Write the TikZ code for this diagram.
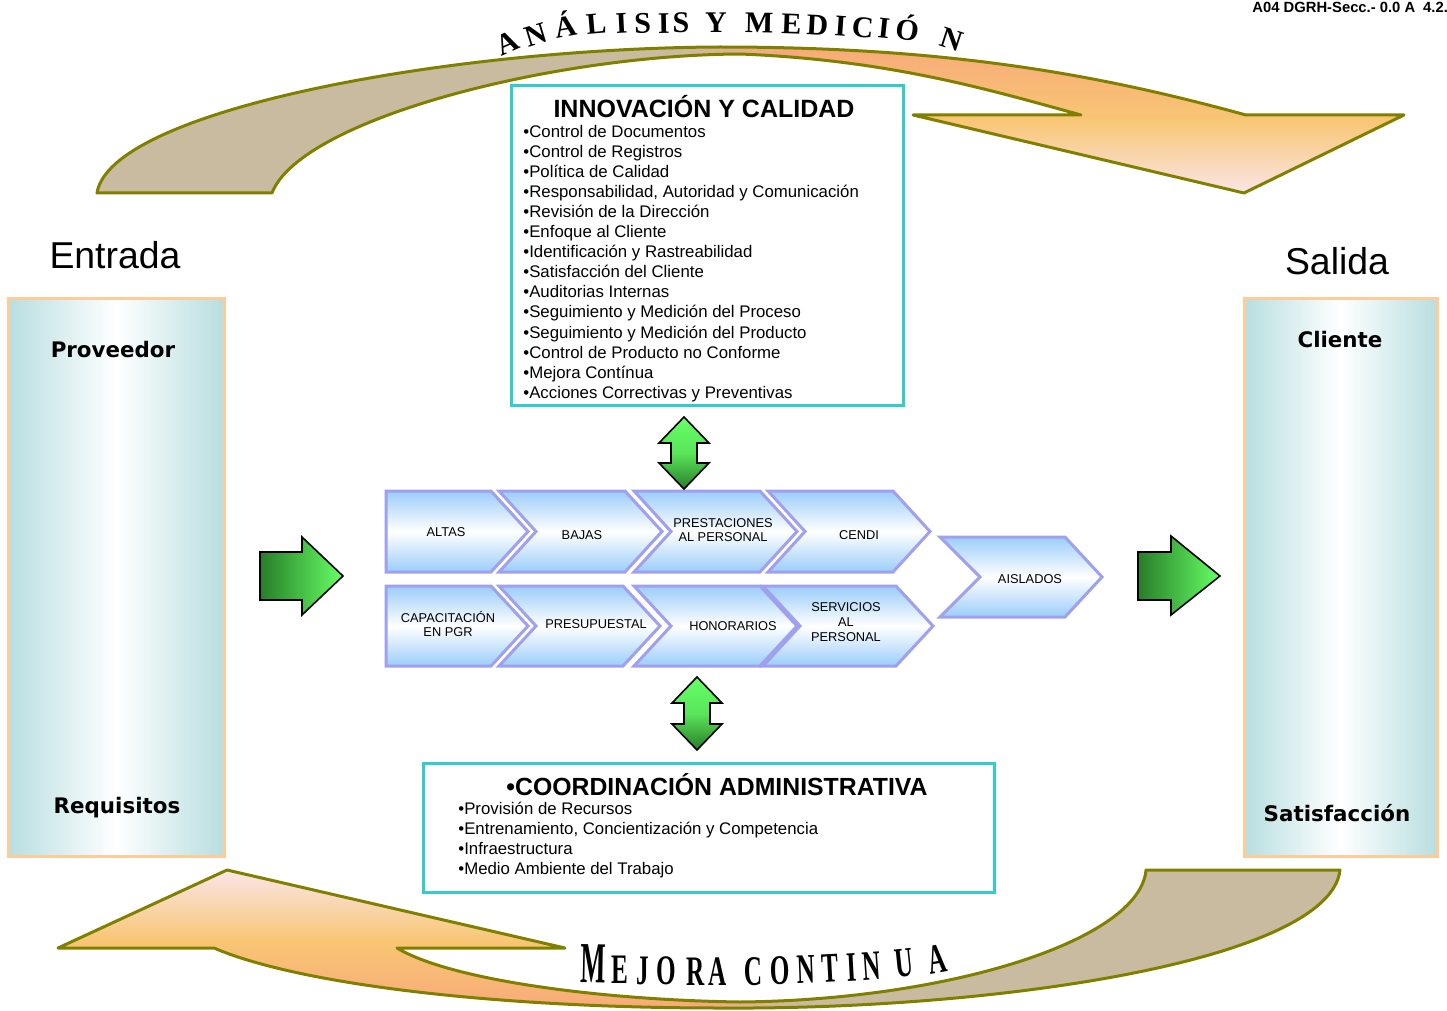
\documentclass[tikz,border=0pt]{standalone}
\usepackage{fontspec}
\usepackage{graphicx}
\setmainfont{Liberation Sans}
\newfontfamily\wafont{Liberation Serif}
\newfontfamily\dvfont{DejaVu Sans}
\definecolor{olivee}{RGB}{128,128,0}
\definecolor{tanb}{RGB}{200,187,159}
\definecolor{salmonb}{RGB}{248,168,122}
\definecolor{orangeb}{RGB}{248,198,116}
\definecolor{pinkb}{RGB}{251,232,242}
\definecolor{chevblue}{RGB}{155,205,250}
\definecolor{chevline}{RGB}{160,160,240}
\definecolor{cyanb}{RGB}{51,204,204}
\definecolor{panelb}{RGB}{255,204,153}
\definecolor{panelt}{RGB}{184,222,224}
\definecolor{gdark}{RGB}{40,125,40}
\definecolor{glight}{RGB}{102,255,102}
\newcommand{\mychev}[5]{%
  \path[chev] (#1,#3) -- ({#2-37},#3) -- (#2,{(#3+#4)/2}) -- ({#2-37},#4) -- (#1,#4) -- ({#1+#5},{(#3+#4)/2}) -- cycle;}
\newcommand{\dblarrow}[3]{% cx, top tip y, bottom tip y
  \path[greenv] (#1,#2) -- ({#1+25},{#2+26}) -- ({#1+13},{#2+26}) -- ({#1+13},{#3-26}) -- ({#1+25},{#3-26}) -- (#1,#3) -- ({#1-25},{#3-26}) -- ({#1-13},{#3-26}) -- ({#1-13},{#2+26}) -- ({#1-25},{#2+26}) -- cycle;}
\def\toparrow{(97,193) .. controls (110,110) and (450,48) .. (720,47) .. controls (950,47) and (1100,75) .. (1246,115) -- (1404,115) -- (1244,193) -- (913,115) -- (1081,115) .. controls (990,90) and (890,60) .. (740,54) .. controls (550,55) and (300,120) .. (272,193) -- cycle}
\def\botarrow{(1146,870) -- (1340,870) .. controls (1330,960) and (1000,1010) .. (720,1008) .. controls (500,1008) and (300,985) .. (214,948) -- (58,948) -- (227,870) -- (565,948) -- (397,948) .. controls (450,980) and (600,1000) .. (740,1002) .. controls (950,1000) and (1140,940) .. (1146,870) -- cycle}
\begin{document}
\begin{tikzpicture}[x=0.5pt,y=-0.5pt,
  outline/.style={draw=olivee, line width=1.5pt, line join=round},
  chev/.style={draw=chevline, line width=1.5pt, line join=miter, top color=chevblue, bottom color=chevblue, middle color=white},
  chevtxt/.style={font=\fontsize{6.4}{7.4}\selectfont, align=center, inner sep=0},
  greenh/.style={draw=black, line width=0.8pt, line join=miter, left color=gdark, right color=glight},
  greenv/.style={draw=black, line width=0.8pt, line join=miter, top color=glight, bottom color=gdark, middle color=glight!80!gdark},
  panel/.style={draw=panelb, line width=1.5pt, left color=panelt, right color=panelt, middle color=white},
  cbox/.style={draw=cyanb, line width=1.5pt, fill=white},
  sidelbl/.style={font=\dvfont\bfseries\fontsize{10.7}{12}\selectfont, inner sep=0},
  biglbl/.style={font=\fontsize{18.7}{20}\selectfont, inner sep=0},
  toplet/.style={font=\wafont\bfseries\fontsize{15}{15}\selectfont, inner sep=0, anchor=base},
  botlet/.style={inner sep=0, anchor=base}]
\useasboundingbox (0,0) rectangle (1447,1011);

% big curved arrows
\path[fill=tanb] \toparrow;
\begin{scope}
  \clip \toparrow;
  \shade[left color=tanb, right color=salmonb] (680,30) rectangle (800,200);
  \shade[top color=salmonb, bottom color=pinkb, middle color=orangeb] (799,40) rectangle (1420,200);
\end{scope}
\path[outline] \toparrow;

\path[fill=tanb] \botarrow;
\begin{scope}
  \clip \botarrow;
  \shade[left color=salmonb, right color=tanb] (690,860) rectangle (800,1015);
  \shade[top color=pinkb, bottom color=salmonb, middle color=orangeb] (40,865) rectangle (691,1015);
\end{scope}
\path[outline] \botarrow;

% arc texts
\foreach \ch/\x/\y/\r [count=\i] in {A/511/52/24, N/539/44/17, Á/567/37/10, L/597/34/5, I/622/33/3, S/643/33/2, I/664/33/1, S/681/33/0, Y/716/33/0, M/759/33/-1, E/791/34/-2, D/817/35/-3, I/840/36/-4, C/862/37/-5, I/883/38/-6, Ó/906/40/-8, N/949/49/-18}
  \node[toplet, rotate=\r] (tl\i) at (\x,\y) {\ch};
\foreach \ch/\x/\y/\r/\s/\k [count=\i] in {M/593/983/-1/29/0.46, E/620/983/0/21/0.6, J/643/984/0/21/0.6, O/666/984/0/21/0.6, R/696/985/0/21/0.6, A/718/985/0/21/0.6, C/754/985/1/21/0.6, O/780/984/1/21/0.6, N/807/983/2/21/0.6, T/831/982/3/21/0.6, I/852/981/3/21/0.6, N/873/980/4/21/0.6, U/906/977/6/21/0.6, A/939/973/10/21/0.6}
  \node[botlet, rotate=\r, font=\wafont\bfseries\fontsize{\s}{\s}\selectfont] (bl\i) at (\x,\y) {\scalebox{\k}[1]{\ch}};

% corner code
\node[anchor=west, inner sep=0, font=\bfseries\fontsize{7.4}{8}\selectfont] (code) at (1252,7) {A04 DGRH-Secc.- 0.0 A\hspace{4pt}4.2.};

% side panels
\path[panel] (8,298) rectangle (224,856);
\path[panel] (1244,298) rectangle (1437,856);
\node[biglbl] (entrada) at (115,255) {Entrada};
\node[biglbl] (salida) at (1337,261) {Salida};
\node[sidelbl] (prov) at (113,350) {Proveedor};
\node[sidelbl] (req) at (117,808) {Requisitos};
\node[sidelbl] (cli) at (1340,340) {Cliente};
\node[sidelbl] (sat) at (1337,813) {Satisfacción};

% boxes
\path[cbox] (511,86) rectangle (903,405);
\node[inner sep=0, font=\bfseries\fontsize{12.5}{14}\selectfont] (innov) at (704,107) {INNOVACIÓN Y CALIDAD};
\node[anchor=north west, inner sep=0, align=left, font=\fontsize{8.4}{10.05}\selectfont] (innovlist) at (523,124.5) {•Control de Documentos\\
•Control de Registros\\
•Política de Calidad\\
•Responsabilidad, Autoridad y Comunicación\\
•Revisión de la Dirección\\
•Enfoque al Cliente\\
•Identificación y Rastreabilidad\\
•Satisfacción del Cliente\\
•Auditorias Internas\\
•Seguimiento y Medición del Proceso\\
•Seguimiento y Medición del Producto\\
•Control de Producto no Conforme\\
•Mejora Contínua\\
•Acciones Correctivas y Preventivas};

\path[cbox] (423,763) rectangle (994,892);
\node[inner sep=0, font=\bfseries\fontsize{12.4}{14}\selectfont] (coord) at (717,785) {•COORDINACIÓN ADMINISTRATIVA};
\node[anchor=north west, inner sep=0, align=left, font=\fontsize{8.4}{10.1}\selectfont] (coordlist) at (458,801.5) {•Provisión de Recursos\\
•Entrenamiento, Concientización y Competencia\\
•Infraestructura\\
•Medio Ambiente del Trabajo};

% chevrons
\mychev{386}{528}{491}{572}{0}
\mychev{499}{662}{491}{572}{37}
\mychev{634}{797}{491}{572}{37}
\mychev{768}{930}{491}{572}{37}
\mychev{386}{528}{586}{666}{0}
\mychev{499}{660}{586}{666}{37}
\mychev{634}{797}{586}{666}{37}
\mychev{763}{933}{586}{666}{37}
\mychev{940}{1102}{537}{617}{40}
\node[chevtxt] (altas) at (446,532) {ALTAS};
\node[chevtxt] (bajas) at (582,535) {BAJAS};
\node[chevtxt] (prest) at (723,530) {PRESTACIONES\\AL PERSONAL};
\node[chevtxt] (cendi) at (859,535) {CENDI};
\node[chevtxt] (capac) at (448,624) {CAPACITACIÓN\\EN PGR};
\node[chevtxt] (presup) at (596,624) {PRESUPUESTAL};
\node[chevtxt] (honor) at (733,626) {HONORARIOS};
\node[chevtxt] (serv) at (846,622) {SERVICIOS\\AL\\PERSONAL};
\node[chevtxt] (aisl) at (1030,579) {AISLADOS};

% green arrows
\path[greenh] (260,552) -- (302,552) -- (302,537) -- (343,576) -- (302,615) -- (302,600) -- (260,600) -- cycle;
\path[greenh] (1138,552) -- (1171,552) -- (1171,536) -- (1220,576) -- (1171,615) -- (1171,600) -- (1138,600) -- cycle;
\dblarrow{684}{417}{489}
\dblarrow{697}{677}{750}
\end{tikzpicture}
\end{document}
